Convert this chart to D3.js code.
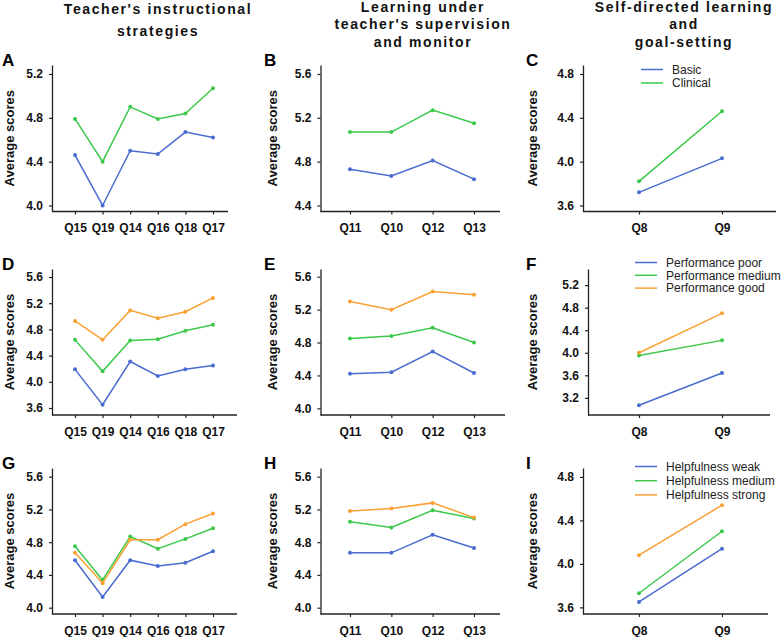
<!DOCTYPE html>
<html>
<head>
<meta charset="utf-8">
<script src="https://cdn.jsdelivr.net/npm/d3@7"></script>
<style>
  html, body { margin: 0; padding: 0; background: #fff; }
  svg { display: block; font-family: "Liberation Sans", Arial, sans-serif; }
</style>
</head>
<body>
<svg id="chart" width="782" height="637"></svg>
<script>
// ---------- DATA ----------
const itemsTeach = ["Q15", "Q19", "Q14", "Q16", "Q18", "Q17"];
const itemsSuper = ["Q11", "Q10", "Q12", "Q13"];
const itemsSelf  = ["Q8", "Q9"];

const groupsMajor = ["Basic", "Clinical"];
const groupsPerf  = ["Performance poor", "Performance medium", "Performance good"];
const groupsHelp  = ["Helpfulness weak", "Helpfulness medium", "Helpfulness strong"];

const columnTitles = [
  ["Teacher's instructional", "strategies"],
  ["Learning under", "teacher's supervision", "and monitor"],
  ["Self-directed learning", "and", "goal-setting"]
];
const panelLetters = ["A", "B", "C", "D", "E", "F", "G", "H", "I"];
const yAxisLabel = "Average scores";

// Panel A–C: by major
const A_basic    = [4.46, 4.00, 4.50, 4.47, 4.67, 4.62];
const A_clinical = [4.79, 4.40, 4.90, 4.79, 4.84, 5.07];
const B_basic    = [4.73, 4.67, 4.81, 4.64];
const B_clinical = [5.07, 5.07, 5.27, 5.15];
const C_basic    = [3.72, 4.03];
const C_clinical = [3.82, 4.46];
// Panel D–F: by performance
const D_poor   = [4.19, 3.65, 4.31, 4.09, 4.19, 4.25];
const D_medium = [4.64, 4.16, 4.63, 4.65, 4.78, 4.87];
const D_good   = [4.93, 4.64, 5.09, 4.97, 5.07, 5.28];
const E_poor   = [4.42, 4.44, 4.69, 4.43];
const E_medium = [4.85, 4.88, 4.98, 4.80];
const E_good   = [5.30, 5.20, 5.42, 5.38];
const F_poor   = [3.07, 3.64];
const F_medium = [3.95, 4.22];
const F_good   = [4.00, 4.70];
// Panel G–I: by helpfulness
const G_weak   = [4.58, 4.13, 4.58, 4.51, 4.55, 4.69];
const G_medium = [4.75, 4.34, 4.87, 4.72, 4.84, 4.97];
const G_strong = [4.67, 4.30, 4.83, 4.83, 5.02, 5.15];
const H_weak   = [4.67, 4.67, 4.89, 4.73];
const H_medium = [5.05, 4.98, 5.19, 5.09];
const H_strong = [5.18, 5.21, 5.28, 5.10];
const I_weak   = [3.65, 4.14];
const I_medium = [3.73, 4.30];
const I_strong = [4.08, 4.54];

// Y tick labels
const ticksA = [4.0, 4.4, 4.8, 5.2];
const ticksB = [4.4, 4.8, 5.2, 5.6];
const ticksC = [3.6, 4.0, 4.4, 4.8];
const ticksD = [3.6, 4.0, 4.4, 4.8, 5.2, 5.6];
const ticksE = [4.0, 4.4, 4.8, 5.2, 5.6];
const ticksF = [3.2, 3.6, 4.0, 4.4, 4.8, 5.2];
const ticksG = [4.0, 4.4, 4.8, 5.2, 5.6];
const ticksH = [4.0, 4.4, 4.8, 5.2, 5.6];
const ticksI = [3.6, 4.0, 4.4, 4.8];

// ---------- STYLE / LAYOUT ----------
const BLUE = "#4a6bd0", GREEN = "#3cc94b", ORANGE = "#f9a133";
const AXIS = "#222";

const rows = [ {top: 65, bottom: 211.5}, {top: 269, bottom: 415}, {top: 468, bottom: 614} ];
const cols = [
  {cats: itemsTeach, xr: [75, 213],  titleX: 158, letterX: 2,   ylabX: 14},
  {cats: itemsSuper, xr: [350, 474], titleX: 423, letterX: 264, ylabX: 277},
  {cats: itemsSelf,  xr: [639, 722], titleX: 684, letterX: 526, ylabX: 537}
];

const panels = [
  {r:0, c:0, x0:52,  x1:228, ydom:[3.945, 5.282], ticks:ticksA, data:[A_basic, A_clinical], names:groupsMajor, colors:[BLUE, GREEN]},
  {r:0, c:1, x0:320.5, x1:500, ydom:[4.345, 5.682], ticks:ticksB, data:[B_basic, B_clinical], names:groupsMajor, colors:[BLUE, GREEN]},
  {r:0, c:2, x0:583, x1:776, ydom:[3.545, 4.882], ticks:ticksC, data:[C_basic, C_clinical], names:groupsMajor, colors:[BLUE, GREEN],
     legend:{x:641, y:69.5, dy:13.5}},
  {r:1, c:0, x0:52,  x1:237, ydom:[3.493, 5.722], ticks:ticksD, data:[D_poor, D_medium, D_good], names:groupsPerf, colors:[BLUE, GREEN, ORANGE]},
  {r:1, c:1, x0:320.5, x1:505, ydom:[3.919, 5.694], ticks:ticksE, data:[E_poor, E_medium, E_good], names:groupsPerf, colors:[BLUE, GREEN, ORANGE]},
  {r:1, c:2, x0:588, x1:770, ydom:[2.896, 5.486], ticks:ticksF, data:[F_poor, F_medium, F_good], names:groupsPerf, colors:[BLUE, GREEN, ORANGE],
     legend:{x:635, y:262.5, dy:12.8}},
  {r:2, c:0, x0:52,  x1:237, ydom:[3.923, 5.706], ticks:ticksG, data:[G_weak, G_medium, G_strong], names:groupsHelp, colors:[BLUE, GREEN, ORANGE]},
  {r:2, c:1, x0:320.5, x1:500, ydom:[3.923, 5.706], ticks:ticksH, data:[H_weak, H_medium, H_strong], names:groupsHelp, colors:[BLUE, GREEN, ORANGE]},
  {r:2, c:2, x0:583, x1:768, ydom:[3.539, 4.882], ticks:ticksI, data:[I_weak, I_medium, I_strong], names:groupsHelp, colors:[BLUE, GREEN, ORANGE],
     legend:{x:635, y:466.5, dy:14.2}}
];

const svg = d3.select("#chart");

// Column titles
const titleBaselines = [[14, 36], [11.7, 28.6, 46.5], [11.7, 28.6, 46.5]];
columnTitles.forEach((lines, ci) => {
  lines.forEach((t, li) => {
    svg.append("text")
      .attr("x", cols[ci].titleX)
      .attr("y", titleBaselines[ci][li])
      .attr("text-anchor", "middle")
      .attr("font-size", 14)
      .attr("font-weight", "bold")
      .attr("letter-spacing", 1.6)
      .attr("fill", "#111")
      .text(t);
  });
});

panels.forEach((p, i) => {
  const row = rows[p.r], col = cols[p.c];
  const g = svg.append("g");

  const x = d3.scalePoint().domain(col.cats).range(col.xr);
  const y = d3.scaleLinear().domain(p.ydom).range([row.bottom, row.top]);

  // Y axis
  const yAxis = d3.axisLeft(y).tickValues(p.ticks).tickFormat(d3.format(".1f"))
    .tickSize(3).tickPadding(6).tickSizeOuter(0);
  const yg = g.append("g").attr("transform", `translate(${p.x0},0)`).call(yAxis);

  // X axis: spans from y-axis to the right end
  const xAxis = d3.axisBottom(x).tickSize(3).tickPadding(9).tickSizeOuter(0);
  const xg = g.append("g").attr("transform", `translate(0,${row.bottom})`).call(xAxis);
  xg.select(".domain").attr("d", `M${p.x0},0H${p.x1}`);

  [yg, xg].forEach(ax => {
    ax.select(".domain").attr("stroke", AXIS).attr("stroke-width", 1.3);
    ax.selectAll(".tick line").attr("stroke", AXIS).attr("stroke-width", 1.2);
    ax.selectAll(".tick text").attr("fill", "#111").attr("font-size", 12)
      .attr("font-weight", "bold").attr("font-family", "Liberation Sans, Arial, sans-serif");
  });

  // Y label
  g.append("text")
    .attr("transform", `translate(${col.ylabX},${(row.top + row.bottom) / 2}) rotate(-90)`)
    .attr("text-anchor", "middle")
    .attr("font-size", 13)
    .attr("font-weight", "bold")
    .attr("fill", "#111")
    .text(yAxisLabel);

  // Panel letter
  g.append("text")
    .attr("x", col.letterX)
    .attr("y", row.top + 0.5)
    .attr("font-size", 17)
    .attr("font-weight", "bold")
    .attr("fill", "#000")
    .text(panelLetters[i]);

  // Series
  const line = d3.line().x((d, k) => x(col.cats[k])).y(d => y(d));
  p.data.forEach((vals, si) => {
    g.append("path")
      .datum(vals)
      .attr("d", line)
      .attr("fill", "none")
      .attr("stroke", p.colors[si])
      .attr("stroke-width", 1.5);
    g.selectAll(null).data(vals).enter().append("circle")
      .attr("cx", (d, k) => x(col.cats[k]))
      .attr("cy", d => y(d))
      .attr("r", 2)
      .attr("fill", p.colors[si]);
  });

  // Legend
  if (p.legend) {
    const L = p.legend;
    p.names.forEach((name, si) => {
      const yy = L.y + si * L.dy;
      g.append("line")
        .attr("x1", L.x).attr("x2", L.x + 22)
        .attr("y1", yy).attr("y2", yy)
        .attr("stroke", p.colors[si]).attr("stroke-width", 1.5);
      g.append("text")
        .attr("x", L.x + 31)
        .attr("y", yy + 4.3)
        .attr("font-size", 12)
        .attr("fill", "#222")
        .text(name);
    });
  }
});
</script>
</body>
</html>
